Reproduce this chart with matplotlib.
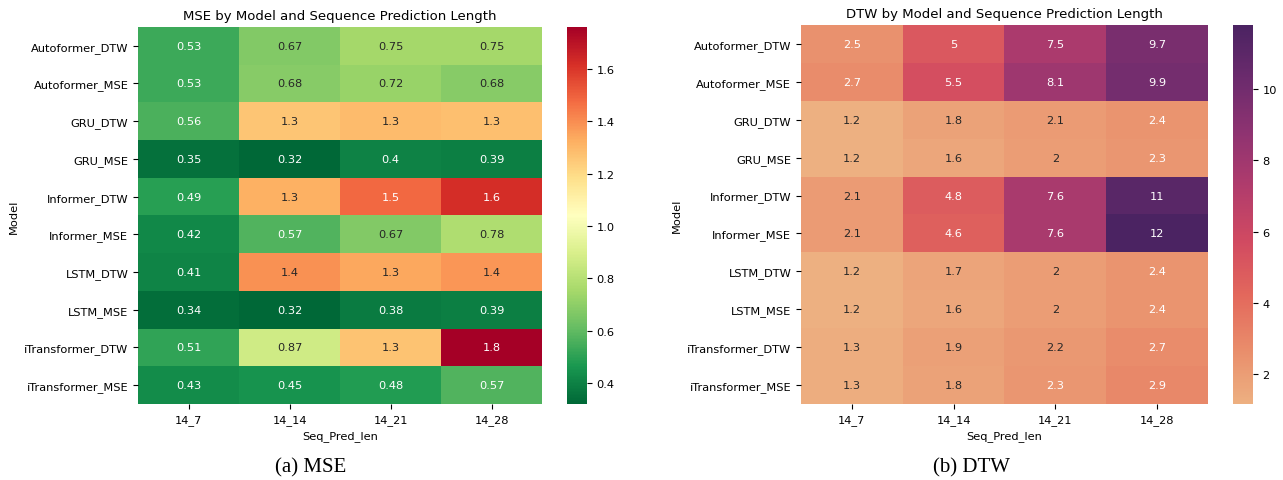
import numpy as np
import matplotlib
matplotlib.use("Agg")
from matplotlib import pyplot as plt
from matplotlib.colors import LinearSegmentedColormap, to_rgba

models = ["Autoformer_DTW", "Autoformer_MSE", "GRU_DTW", "GRU_MSE",
          "Informer_DTW", "Informer_MSE", "LSTM_DTW", "LSTM_MSE",
          "iTransformer_DTW", "iTransformer_MSE"]
seq_pred_len = ["14_7", "14_14", "14_21", "14_28"]

mse_values = [
    [0.53, 0.67, 0.75, 0.75],
    [0.53, 0.68, 0.72, 0.68],
    [0.56, 1.26, 1.29, 1.28],
    [0.35, 0.32, 0.40, 0.39],
    [0.49, 1.32, 1.48, 1.62],
    [0.42, 0.57, 0.67, 0.78],
    [0.41, 1.39, 1.34, 1.38],
    [0.34, 0.32, 0.38, 0.39],
    [0.51, 0.87, 1.27, 1.76],
    [0.43, 0.45, 0.48, 0.57],
]

dtw_values = [
    [2.5, 5.0, 7.5, 9.7],
    [2.7, 5.5, 8.1, 9.9],
    [1.16, 1.8, 2.1, 2.4],
    [1.18, 1.6, 2.0, 2.3],
    [2.1, 4.8, 7.6, 11.1],
    [2.1, 4.6, 7.6, 11.8],
    [1.17, 1.7, 2.0, 2.4],
    [1.18, 1.6, 2.0, 2.4],
    [1.3, 1.9, 2.2, 2.7],
    [1.3, 1.8, 2.3, 2.9],
]

# seaborn "flare" rebuilt from its sampled colours
flare = LinearSegmentedColormap.from_list(
    "flare", ["#edb081", "#e98d6b", "#e3685c", "#d14a61",
              "#b13c6c", "#8f3371", "#6c2b6d", "#4b2362"])

plt.rcParams['font.family'] = 'DejaVu Sans'
plt.rcParams['font.size'] = 8.2


def luminance(c):
    rgb = np.array(to_rgba(c)[:3])
    rgb = np.where(rgb <= .03928, rgb / 12.92, ((rgb + .055) / 1.055) ** 2.4)
    return rgb.dot([.2126, .7152, .0722])


def heatmap(ax, cax, values, cmap, title):
    data = np.array(values)
    mesh = ax.pcolormesh(data, cmap=cmap, vmin=data.min(), vmax=data.max())
    ax.set_xlim(0, data.shape[1])
    ax.set_ylim(data.shape[0], 0)
    for i in range(data.shape[0]):
        for j in range(data.shape[1]):
            color = mesh.cmap(mesh.norm(data[i, j]))
            tc = ".15" if luminance(color) > .408 else "w"
            ax.text(j + 0.5, i + 0.5, format(data[i, j], ".2g"),
                    ha="center", va="center", color=tc)
    ax.set_xticks(np.arange(data.shape[1]) + 0.5)
    ax.set_xticklabels(seq_pred_len)
    ax.set_yticks(np.arange(data.shape[0]) + 0.5)
    ax.set_yticklabels(models, rotation=0)
    for s in ax.spines.values():
        s.set_visible(False)
    ax.set_xlabel("Seq_Pred_len")
    ax.set_ylabel("Model")
    ax.set_title(title, fontsize=9.5)
    cb = plt.colorbar(mesh, cax=cax)
    cb.outline.set_linewidth(0)


fig = plt.figure(figsize=(12.83, 4.81), dpi=100)
ax1 = fig.add_axes([0.1076, 0.158, 0.3149, 0.784])
cax1 = fig.add_axes([0.442, 0.158, 0.0155, 0.784])
ax2 = fig.add_axes([0.6243, 0.158, 0.3172, 0.788])
cax2 = fig.add_axes([0.961, 0.158, 0.0155, 0.788])

heatmap(ax1, cax1, mse_values, "RdYlGn_r", "MSE by Model and Sequence Prediction Length")
heatmap(ax2, cax2, dtw_values, flare, "DTW by Model and Sequence Prediction Length")

fig.text(0.2424, 0.027, "(a) MSE", ha="center", va="center",
         family="Liberation Serif", fontsize=15)
fig.text(0.757, 0.027, "(b) DTW", ha="center", va="center",
         family="Liberation Serif", fontsize=15)

fig.savefig("out.png", dpi=100)
